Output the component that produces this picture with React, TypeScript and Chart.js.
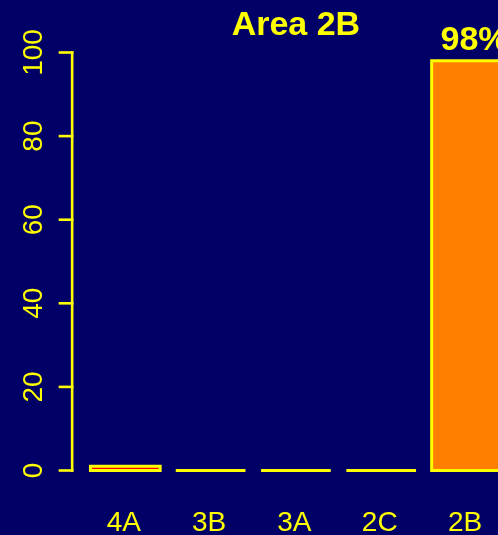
import React, { useEffect, useRef } from "react";
import { Chart, registerables } from "chart.js";

Chart.register(...registerables);

const title = "Area 2B";
const categories = ["4A", "3B", "3A", "2C", "2B"];
const values = [1, 0, 0, 0, 98];
const barColors = ["#FF0000", "#FF0000", "#FF0000", "#FF0000", "#FF8000"];
const valueLabels = ["", "", "", "", "98%"];
const yTicks = [0, 20, 40, 60, 80, 100];

const BG = "#000066";
const FG = "#FFFF00";
const FONT = "'Liberation Sans', Arial, Helvetica, sans-serif";

const drawPlugin = {
  id: "rStyle",
  beforeDraw(chart: any) {
    const { ctx, width, height } = chart;
    ctx.save();
    ctx.fillStyle = BG;
    ctx.fillRect(0, 0, width, height);
    ctx.restore();
  },
  afterDatasetsDraw(chart: any) {
    const { ctx, chartArea } = chart;
    const yScale = chart.scales.y;
    const meta = chart.getDatasetMeta(0);
    ctx.save();
    // bar outlines
    ctx.strokeStyle = FG;
    ctx.lineWidth = 3;
    ctx.lineJoin = "miter";
    meta.data.forEach((bar: any) => {
      const p = bar.getProps(["x", "y", "base", "width"], true);
      ctx.beginPath();
      ctx.rect(p.x - p.width / 2, Math.min(p.y, p.base), p.width, Math.abs(p.base - p.y));
      ctx.stroke();
    });
    // y axis
    const axisX = chartArea.left - 10.5;
    const y0 = yScale.getPixelForValue(yTicks[0]);
    const y1 = yScale.getPixelForValue(yTicks[yTicks.length - 1]);
    ctx.lineWidth = 2.6;
    ctx.lineCap = "butt";
    ctx.beginPath();
    ctx.moveTo(axisX, y0 + 1.3);
    ctx.lineTo(axisX, y1 - 1.3);
    ctx.stroke();
    ctx.fillStyle = FG;
    ctx.font = `28px ${FONT}`;
    ctx.textAlign = "center";
    ctx.textBaseline = "alphabetic";
    yTicks.forEach((t) => {
      const py = yScale.getPixelForValue(t);
      ctx.beginPath();
      ctx.moveTo(axisX - 13.5, py);
      ctx.lineTo(axisX + 1.3, py);
      ctx.stroke();
      ctx.save();
      ctx.translate(axisX - 30, py);
      ctx.rotate(-Math.PI / 2);
      ctx.fillText(String(t), 0, 0);
      ctx.restore();
    });
    // x labels
    meta.data.forEach((bar: any, i: number) => {
      ctx.fillText(categories[i], bar.x - 1.5, chartArea.bottom + 60.5);
    });
    // value labels
    ctx.font = `bold 34px ${FONT}`;
    meta.data.forEach((bar: any, i: number) => {
      if (valueLabels[i]) ctx.fillText(valueLabels[i], bar.x + 8, bar.y - 11);
    });
    // title
    ctx.fillText(title, (chartArea.left + chartArea.right) / 2, 35);
    ctx.restore();
  },
};

export default function App() {
  const ref = useRef<HTMLCanvasElement>(null);
  useEffect(() => {
    const canvas = ref.current!;
    const chart = new Chart(canvas, {
      type: "bar",
      data: {
        labels: categories,
        datasets: [
          {
            data: values,
            backgroundColor: barColors,
            borderWidth: 0,
            categoryPercentage: 1,
            barPercentage: 0.817,
          },
        ],
      },
      options: {
        responsive: false,
        animation: false,
        devicePixelRatio: 1,
        layout: { padding: { left: 82.65, right: 20.85, top: 52.5, bottom: 64.5 } },
        plugins: { legend: { display: false }, title: { display: false }, tooltip: { enabled: false } },
        scales: {
          x: { type: "category", display: false },
          y: { display: false, min: 0, max: 100 },
        },
      },
      plugins: [drawPlugin],
    });
    return () => chart.destroy();
  }, []);
  return (
    <div
      style={{
        position: "absolute",
        left: 0,
        top: 0,
        width: 498,
        height: 535,
        overflow: "hidden",
        background: BG,
      }}
    >
      <canvas ref={ref} width={530} height={535} style={{ display: "block" }} />
    </div>
  );
}
